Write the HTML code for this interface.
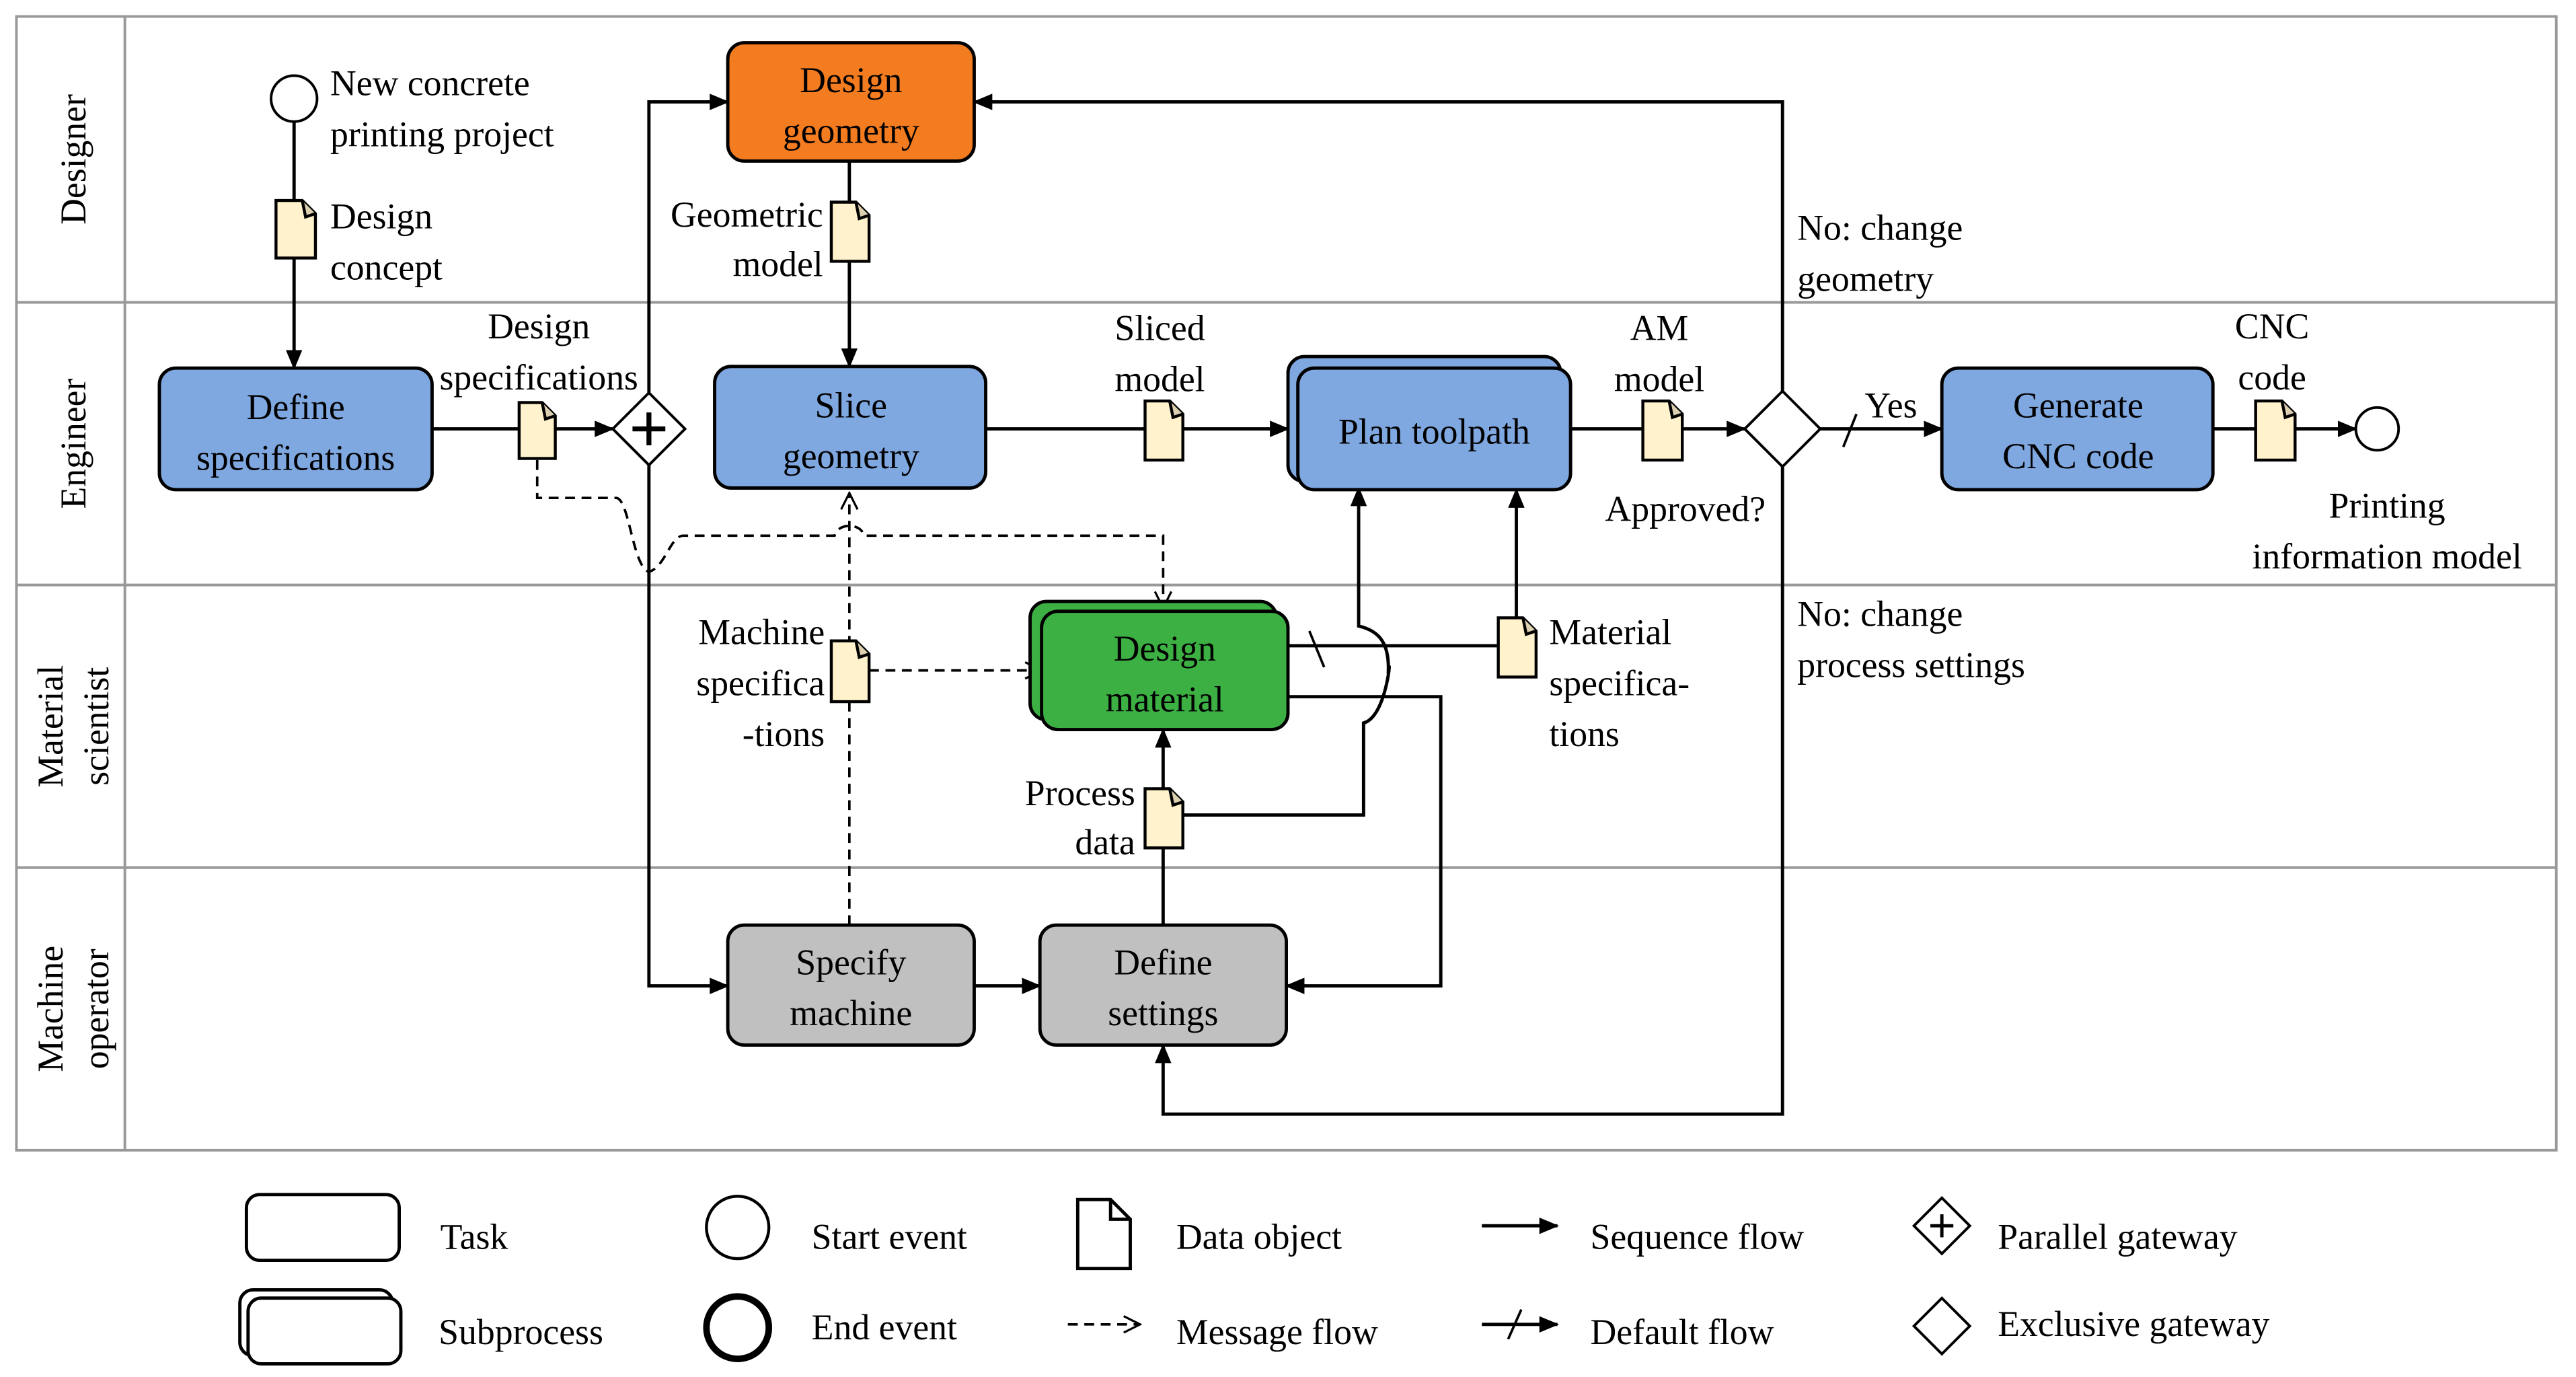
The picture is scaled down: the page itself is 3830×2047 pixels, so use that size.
<!DOCTYPE html>
<html><head><meta charset="utf-8"><style>
html,body{margin:0;padding:0;background:#fff}
svg{display:block}
svg text{font-family:"Liberation Serif","Times New Roman",Times,serif;font-size:22px;fill:#000}
</style></head><body>
<svg width="3830" height="2047" viewBox="0 0 1568 838" xmlns="http://www.w3.org/2000/svg" font-family="Liberation Serif, Times New Roman, serif" font-size="22">
<defs>
<marker id="a" markerWidth="12" markerHeight="10" refX="11" refY="5" orient="auto" markerUnits="userSpaceOnUse"><path d="M0,0 L12,5 L0,10 Z" fill="#000"/></marker>
<marker id="o" markerWidth="12" markerHeight="12" refX="11" refY="6" orient="auto" markerUnits="userSpaceOnUse"><path d="M1,1 L11,6 L1,11" fill="none" stroke="#000" stroke-width="1.3"/></marker>
</defs>
<rect width="1568" height="838" fill="#fff"/>
<g stroke="#999" stroke-width="1.6" fill="none">
<rect x="10" y="10" width="1546" height="690"/>
<line x1="76" y1="10" x2="76" y2="700"/>
<line x1="10" y1="184" x2="1556" y2="184"/>
<line x1="10" y1="356" x2="1556" y2="356"/>
<line x1="10" y1="528" x2="1556" y2="528"/>
</g>
<g text-anchor="middle">
<text transform="translate(52,97) rotate(-90)">Designer</text>
<text transform="translate(52,270) rotate(-90)">Engineer</text>
<text transform="translate(38,442) rotate(-90)">Material</text>
<text transform="translate(66,442) rotate(-90)">scientist</text>
<text transform="translate(38,614) rotate(-90)">Machine</text>
<text transform="translate(66,614) rotate(-90)">operator</text>
</g>

<g stroke="#000" stroke-width="2" fill="none">
<path d="M179,74 V224" marker-end="url(#a)"/>
<path d="M263,261 H373" marker-end="url(#a)"/>
<path d="M395,239 V62 H443" marker-end="url(#a)"/>
<path d="M395,283 V600 H443" marker-end="url(#a)"/>
<path d="M517,98 V223" marker-end="url(#a)"/>
<path d="M600,261 H784" marker-end="url(#a)"/>
<path d="M956,261 H1062" marker-end="url(#a)"/>
<path d="M1085,238 V62 H593" marker-end="url(#a)"/>
<path d="M1085,284 V678 H708 V636" marker-end="url(#a)"/>
<path d="M1108,261 H1182" marker-end="url(#a)"/>
<path d="M1347,261 H1434" marker-end="url(#a)"/>
<path d="M593,600 H633" marker-end="url(#a)"/>
<path d="M708,563 V444" marker-end="url(#a)"/>
<path d="M784,424 H877 V600 H783" marker-end="url(#a)"/>
<path d="M720,496 H830 V440 C845,436 847,392 845,410 C846,392 840,384 827,381 V297" marker-end="url(#a)"/>
<path d="M784,393 H912"/>
<path d="M923,376 V298" marker-end="url(#a)"/>
<path d="M1122,272 L1130,252" stroke-width="1.5"/>
<path d="M797,384 L806,406" stroke-width="1.5"/>
</g>
<g stroke="#000" stroke-width="1.5" fill="none" stroke-dasharray="6,4">
<path d="M327,280 V303 H375 C383,303 385,345 395,348 C405,345 408,326 416,326 H508 C510,318 524,318 526,326 H708 V370" marker-end="url(#o)"/>
<path d="M517,563 V300" marker-end="url(#o)"/>
<path d="M529,408 H634" marker-end="url(#o)"/>
</g>

<circle cx="179" cy="60" r="14" fill="#fff" stroke="#000" stroke-width="1.6"/>
<circle cx="1447" cy="261" r="13" fill="#fff" stroke="#000" stroke-width="1.6"/>
<path d="M395,239 L417,261 L395,283 L373,261 Z" fill="#fff" stroke="#000" stroke-width="1.6"/>
<path d="M395,251 V271 M385,261 H405" stroke="#000" stroke-width="3"/>
<path d="M1085,238 L1108,261 L1085,284 L1062,261 Z" fill="#fff" stroke="#000" stroke-width="1.6"/>

<g stroke="#000" stroke-width="2">
<rect x="97" y="224" width="166" height="74" rx="10" fill="#7fa7e0"/>
<rect x="443" y="26" width="150" height="72" rx="10" fill="#f47c20"/>
<rect x="435" y="223" width="165" height="74" rx="10" fill="#7fa7e0"/>
<rect x="784" y="217" width="166" height="76" rx="10" fill="#7fa7e0"/>
<rect x="790" y="224" width="166" height="74" rx="10" fill="#7fa7e0"/>
<rect x="1182" y="224" width="165" height="74" rx="10" fill="#7fa7e0"/>
<rect x="627" y="366" width="150" height="72" rx="10" fill="#3cb043"/>
<rect x="634" y="372" width="150" height="72" rx="10" fill="#3cb043"/>
<rect x="443" y="563" width="150" height="73" rx="10" fill="#c0c0c0"/>
<rect x="633" y="563" width="150" height="73" rx="10" fill="#c0c0c0"/>
</g>
<g text-anchor="middle">
<text x="180" y="255">Define</text><text x="180" y="286">specifications</text>
<text x="518" y="56">Design</text><text x="518" y="87">geometry</text>
<text x="518" y="254">Slice</text><text x="518" y="285">geometry</text>
<text x="873" y="270">Plan toolpath</text>
<text x="1265" y="254">Generate</text><text x="1265" y="285">CNC code</text>
<text x="709" y="402">Design</text><text x="709" y="433">material</text>
<text x="518" y="593">Specify</text><text x="518" y="624">machine</text>
<text x="708" y="593">Define</text><text x="708" y="624">settings</text>
</g>

<g stroke="#000" stroke-width="1.8">
<path d="M168,122 H184 L192,130 V157 H168 Z" fill="#fff2cc"/><path d="M184,122 L186,132 L192,130" fill="#ddd0b0"/>
<path d="M316,245 H330 L338,253 V279 H316 Z" fill="#fff2cc"/><path d="M330,245 L332,255 L338,253" fill="#ddd0b0"/>
<path d="M506,123 H521 L529,131 V159 H506 Z" fill="#fff2cc"/><path d="M521,123 L523,133 L529,131" fill="#ddd0b0"/>
<path d="M697,244 H712 L720,252 V280 H697 Z" fill="#fff2cc"/><path d="M712,244 L714,254 L720,252" fill="#ddd0b0"/>
<path d="M1000,244 H1016 L1024,252 V280 H1000 Z" fill="#fff2cc"/><path d="M1016,244 L1018,254 L1024,252" fill="#ddd0b0"/>
<path d="M1373,244 H1389 L1397,252 V280 H1373 Z" fill="#fff2cc"/><path d="M1389,244 L1391,254 L1397,252" fill="#ddd0b0"/>
<path d="M506,390 H521 L529,398 V427 H506 Z" fill="#fff2cc"/><path d="M521,390 L523,400 L529,398" fill="#ddd0b0"/>
<path d="M912,376 H927 L935,384 V412 H912 Z" fill="#fff2cc"/><path d="M927,376 L929,386 L935,384" fill="#ddd0b0"/>
<path d="M697,480 H712 L720,488 V516 H697 Z" fill="#fff2cc"/><path d="M712,480 L714,490 L720,488" fill="#ddd0b0"/>
</g>

<text x="201" y="58">New concrete</text><text x="201" y="89">printing project</text>
<text x="201" y="139">Design</text><text x="201" y="170">concept</text>
<g text-anchor="middle"><text x="328" y="206">Design</text><text x="328" y="237">specifications</text></g>
<g text-anchor="end"><text x="501" y="138">Geometric</text><text x="501" y="168">model</text></g>
<g text-anchor="middle"><text x="706" y="207">Sliced</text><text x="706" y="238">model</text>
<text x="1010" y="207">AM</text><text x="1010" y="238">model</text>
<text x="1383" y="206">CNC</text><text x="1383" y="237">code</text>
<text x="1453" y="315">Printing</text><text x="1453" y="346">information model</text></g>
<text x="977" y="317">Approved?</text>
<text x="1094" y="146">No: change</text><text x="1094" y="177">geometry</text>
<text x="1135" y="254">Yes</text>
<text x="1094" y="381">No: change</text><text x="1094" y="412">process settings</text>
<g text-anchor="end"><text x="502" y="392">Machine</text><text x="502" y="423">specifica</text><text x="502" y="454">-tions</text>
<text x="691" y="490">Process</text><text x="691" y="520">data</text></g>
<text x="943" y="392">Material</text><text x="943" y="423">specifica-</text><text x="943" y="454">tions</text>

<g stroke="#000" stroke-width="2" fill="#fff">
<rect x="150" y="727" width="93" height="40" rx="8"/>
<rect x="146" y="785" width="93" height="40" rx="8"/>
<rect x="151" y="790" width="93" height="40" rx="8"/>
<circle cx="449" cy="747" r="19" stroke-width="1.8"/>
<circle cx="449" cy="808" r="19" stroke-width="4"/>
<path d="M656,730 H676 L688,742 V772 H656 Z"/><path d="M676,730 V742 H688" fill="none"/>
<path d="M1182,729 L1199,746 L1182,763 L1165,746 Z" stroke-width="1.6"/>
<path d="M1182,790 L1199,807 L1182,824 L1165,807 Z" stroke-width="1.6"/>
</g>
<path d="M1182,739 V753 M1175,746 H1189" stroke="#000" stroke-width="2"/>
<g stroke="#000" stroke-width="2" fill="none">
<path d="M902,746 H948" marker-end="url(#a)"/>
<path d="M902,806 H948" marker-end="url(#a)"/>
<path d="M918,815 L926,797" stroke-width="1.5"/>
<path d="M650,806 H694" stroke-dasharray="6,4" stroke-width="1.5" marker-end="url(#o)"/>
</g>
<text x="268" y="760">Task</text>
<text x="267" y="818">Subprocess</text>
<text x="494" y="760">Start event</text>
<text x="494" y="815">End event</text>
<text x="716" y="760">Data object</text>
<text x="716" y="818">Message flow</text>
<text x="968" y="760">Sequence flow</text>
<text x="968" y="818">Default flow</text>
<text x="1216" y="760">Parallel gateway</text>
<text x="1216" y="813">Exclusive gateway</text>
</svg>
</body></html>
